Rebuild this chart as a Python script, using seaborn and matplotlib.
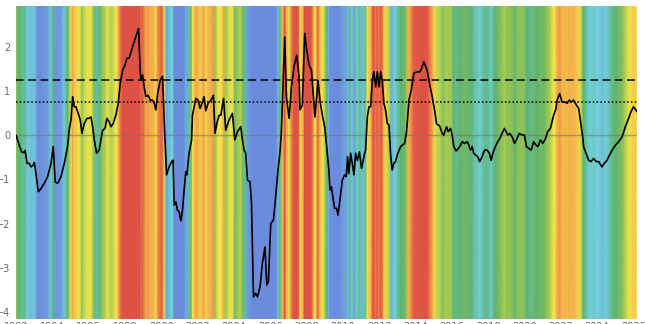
import numpy as np
import pandas as pd
import matplotlib
matplotlib.use("Agg")
import matplotlib.pyplot as plt
import seaborn as sns
from matplotlib.colors import LinearSegmentedColormap, Normalize

# values
years = [
    1992.00, 1992.18, 1992.31, 1992.42, 1992.50, 1992.61, 1992.73, 1992.83, 1992.95, 1993.01,
    1993.10, 1993.23, 1993.38, 1993.56, 1993.74, 1993.93, 1994.05, 1994.16, 1994.29, 1994.48,
    1994.66, 1994.84, 1994.94, 1995.03, 1995.12, 1995.21, 1995.30, 1995.43, 1995.54, 1995.63,
    1995.76, 1995.91, 1996.03, 1996.13, 1996.22, 1996.31, 1996.44, 1996.58, 1996.68, 1996.77,
    1996.90, 1997.01, 1997.13, 1997.23, 1997.35, 1997.50, 1997.63, 1997.74, 1997.87, 1998.00,
    1998.11, 1998.23, 1998.36, 1998.51, 1998.66, 1998.75, 1998.84, 1998.88, 1998.97, 1999.06,
    1999.15, 1999.28, 1999.39, 1999.52, 1999.61, 1999.70, 1999.80, 1999.94, 2000.07, 2000.16,
    2000.29, 2000.43, 2000.57, 2000.65, 2000.71, 2000.80, 2000.89, 2000.98, 2001.08, 2001.17,
    2001.26, 2001.35, 2001.41, 2001.53, 2001.67, 2001.72, 2001.90, 2002.03, 2002.14, 2002.27,
    2002.36, 2002.45, 2002.58, 2002.73, 2002.87, 2002.96, 2003.08, 2003.19, 2003.28, 2003.43,
    2003.55, 2003.73, 2003.92, 2004.05, 2004.20, 2004.38, 2004.47, 2004.56, 2004.65, 2004.75,
    2004.89, 2004.97, 2005.08, 2005.20, 2005.30, 2005.44, 2005.57, 2005.71, 2005.81, 2005.90,
    2006.03, 2006.18, 2006.30, 2006.43, 2006.55, 2006.61, 2006.67, 2006.80, 2006.89, 2007.04,
    2007.17, 2007.31, 2007.46, 2007.59, 2007.64, 2007.77, 2007.90, 2008.01, 2008.14, 2008.27,
    2008.46, 2008.56, 2008.63, 2008.74, 2008.87, 2009.00, 2009.11, 2009.23, 2009.29, 2009.37,
    2009.45, 2009.55, 2009.66, 2009.73, 2009.84, 2009.97, 2010.10, 2010.19, 2010.26, 2010.33,
    2010.43, 2010.52, 2010.61, 2010.70, 2010.80, 2010.91, 2011.03, 2011.16, 2011.25, 2011.35,
    2011.44, 2011.53, 2011.62, 2011.71, 2011.81, 2011.90, 2011.99, 2012.08, 2012.17, 2012.26,
    2012.35, 2012.45, 2012.54, 2012.63, 2012.72, 2012.81, 2012.90, 2013.03, 2013.18, 2013.40,
    2013.51, 2013.64, 2013.77, 2013.91, 2014.10, 2014.24, 2014.33, 2014.46, 2014.64, 2014.79,
    2014.92, 2015.05, 2015.16, 2015.34, 2015.47, 2015.56, 2015.71, 2015.80, 2015.93, 2016.02,
    2016.11, 2016.24, 2016.37, 2016.48, 2016.57, 2016.70, 2016.85, 2016.94, 2017.03, 2017.12,
    2017.21, 2017.31, 2017.43, 2017.54, 2017.67, 2017.80, 2017.95, 2018.07, 2018.17, 2018.28,
    2018.40, 2018.53, 2018.64, 2018.77, 2018.90, 2018.99, 2019.08, 2019.19, 2019.32, 2019.46,
    2019.59, 2019.72, 2019.87, 2020.00, 2020.11, 2020.24, 2020.37, 2020.51, 2020.64, 2020.75,
    2020.88, 2021.01, 2021.16, 2021.28, 2021.43, 2021.52, 2021.61, 2021.74, 2021.80, 2021.94,
    2022.07, 2022.20, 2022.35, 2022.47, 2022.58, 2022.71, 2022.86, 2022.99, 2023.08, 2023.21,
    2023.26, 2023.39, 2023.54, 2023.67, 2023.81, 2023.96, 2024.09, 2024.27, 2024.40, 2024.55,
    2024.69, 2024.83, 2025.01, 2025.19, 2025.38, 2025.56, 2025.74, 2025.87, 2026.01, 2026.20,
]
values = [
    0.00, -0.23, -0.38, -0.40, -0.35, -0.64, -0.64, -0.72, -0.68, -0.62,
    -0.87, -1.28, -1.21, -1.09, -0.94, -0.64, -0.26, -1.06, -1.09, -0.94,
    -0.64, -0.26, 0.15, 0.34, 0.87, 0.64, 0.64, 0.49, 0.34, 0.04,
    0.26, 0.38, 0.38, 0.41, 0.19, -0.11, -0.41, -0.34, -0.11, 0.11,
    0.15, 0.38, 0.30, 0.19, 0.26, 0.45, 0.72, 1.17, 1.47, 1.58,
    1.74, 1.74, 1.92, 2.11, 2.30, 2.41, 1.47, 1.24, 1.36, 1.09,
    0.87, 0.90, 0.79, 0.79, 0.72, 0.57, 0.94, 1.24, 1.33, 0.34,
    -0.90, -0.72, -0.60, -0.57, -1.58, -1.51, -1.70, -1.73, -1.94, -1.70,
    -1.24, -0.83, -0.90, -0.41, -0.11, 0.45, 0.83, 0.79, 0.60, 0.75,
    0.87, 0.55, 0.72, 0.79, 0.90, 0.04, 0.30, 0.45, 0.45, 0.83,
    0.11, 0.34, 0.49, -0.11, 0.08, 0.19, -0.11, -0.34, -0.41, -1.02,
    -1.06, -1.55, -3.66, -3.58, -3.66, -3.43, -2.90, -2.53, -3.39, -3.32,
    -2.00, -1.92, -1.40, -0.79, -0.34, 0.04, 0.72, 2.22, 0.87, 0.38,
    1.09, 1.55, 1.81, 1.32, 0.57, 0.68, 2.30, 1.92, 1.58, 1.47,
    0.41, 0.87, 1.24, 0.79, 0.45, 0.19, -0.26, -0.79, -1.24, -1.17,
    -1.40, -1.66, -1.66, -1.81, -1.47, -1.02, -0.90, -0.94, -0.49, -0.87,
    -0.41, -0.64, -0.90, -0.41, -0.57, -0.38, -0.75, -0.49, -0.34, 0.41,
    0.64, 0.64, 1.24, 1.43, 1.09, 1.43, 1.09, 1.43, 1.24, 0.72,
    0.57, 0.26, 0.23, -0.45, -0.79, -0.64, -0.60, -0.41, -0.26, -0.19,
    0.08, 0.79, 1.02, 1.40, 1.43, 1.43, 1.50, 1.66, 1.47, 1.13,
    0.87, 0.57, 0.26, 0.20, 0.04, 0.00, 0.19, 0.08, 0.15, 0.00,
    -0.26, -0.36, -0.30, -0.23, -0.15, -0.19, -0.15, -0.23, -0.34, -0.26,
    -0.41, -0.45, -0.49, -0.60, -0.49, -0.34, -0.34, -0.41, -0.57, -0.38,
    -0.26, -0.15, -0.08, 0.04, 0.15, 0.08, 0.00, 0.04, -0.04, -0.19,
    -0.08, 0.04, 0.00, 0.00, -0.26, -0.30, -0.34, -0.15, -0.23, -0.26,
    -0.11, -0.19, -0.08, 0.08, 0.15, 0.30, 0.45, 0.60, 0.79, 0.94,
    0.75, 0.75, 0.72, 0.79, 0.75, 0.79, 0.68, 0.60, 0.34, -0.04,
    -0.26, -0.41, -0.57, -0.60, -0.53, -0.60, -0.60, -0.72, -0.64, -0.57,
    -0.45, -0.34, -0.23, -0.15, -0.04, 0.19, 0.38, 0.53, 0.64, 0.53,
]

tick_years = list(range(1992, 2027, 2))
y_ticks = [-4, -3, -2, -1, 0, 1, 2]
upper_level = 1.24
lower_level = 0.75

df = pd.DataFrame({'year': years, 'value': values})

sns.set_style('white')
fig = plt.figure(figsize=(6.45, 3.24), dpi=100)
ax = fig.add_axes([16 / 645, 5 / 324, 621 / 645, 313 / 324])

# фон: полосы по значению ряда
stripe_colors = ['#6b8cdc', '#6e9ee0', '#70cfd8', '#5fb370', '#9ec852',
                 '#f4e84c', '#f3b04a', '#ea7648', '#de5246']
cmap = LinearSegmentedColormap.from_list('stripes', stripe_colors)
norm = Normalize(-1.3, 1.5)
y_lo, y_hi = -4.16, 2.92
X, Y = np.meshgrid(df['year'], [y_lo, y_hi])
C = np.vstack([df['value'], df['value']])
ax.pcolormesh(X, Y, C, cmap=cmap, norm=norm, shading='gouraud', zorder=0)

ax.axhline(0, color='#777777', lw=1, alpha=0.6, zorder=1)
ax.axhline(upper_level, color='black', lw=1.1, ls=(0, (5, 3)), zorder=2)
ax.axhline(lower_level, color='black', lw=1.1, ls=(0, (1, 1.5)), zorder=2)
sns.lineplot(data=df, x='year', y='value', color='black', lw=1.2,
             estimator=None, sort=False, ax=ax, zorder=3)

ax.set_xlim(1992, 2026.2)
ax.set_ylim(y_lo, y_hi)
ax.set_xticks(tick_years)
ax.set_xticklabels([str(y) for y in tick_years])
ax.set_yticks(y_ticks)
ax.tick_params(axis='y', length=3, width=0.8, color='#999999', labelsize=7,
               labelcolor='#666666', pad=1)
ax.tick_params(axis='x', length=0, labelsize=7, labelcolor='#666666', pad=2)
ax.set_xlabel('')
ax.set_ylabel('')
for s in ax.spines.values():
    s.set_visible(False)

fig.savefig('out.png', dpi=100)
